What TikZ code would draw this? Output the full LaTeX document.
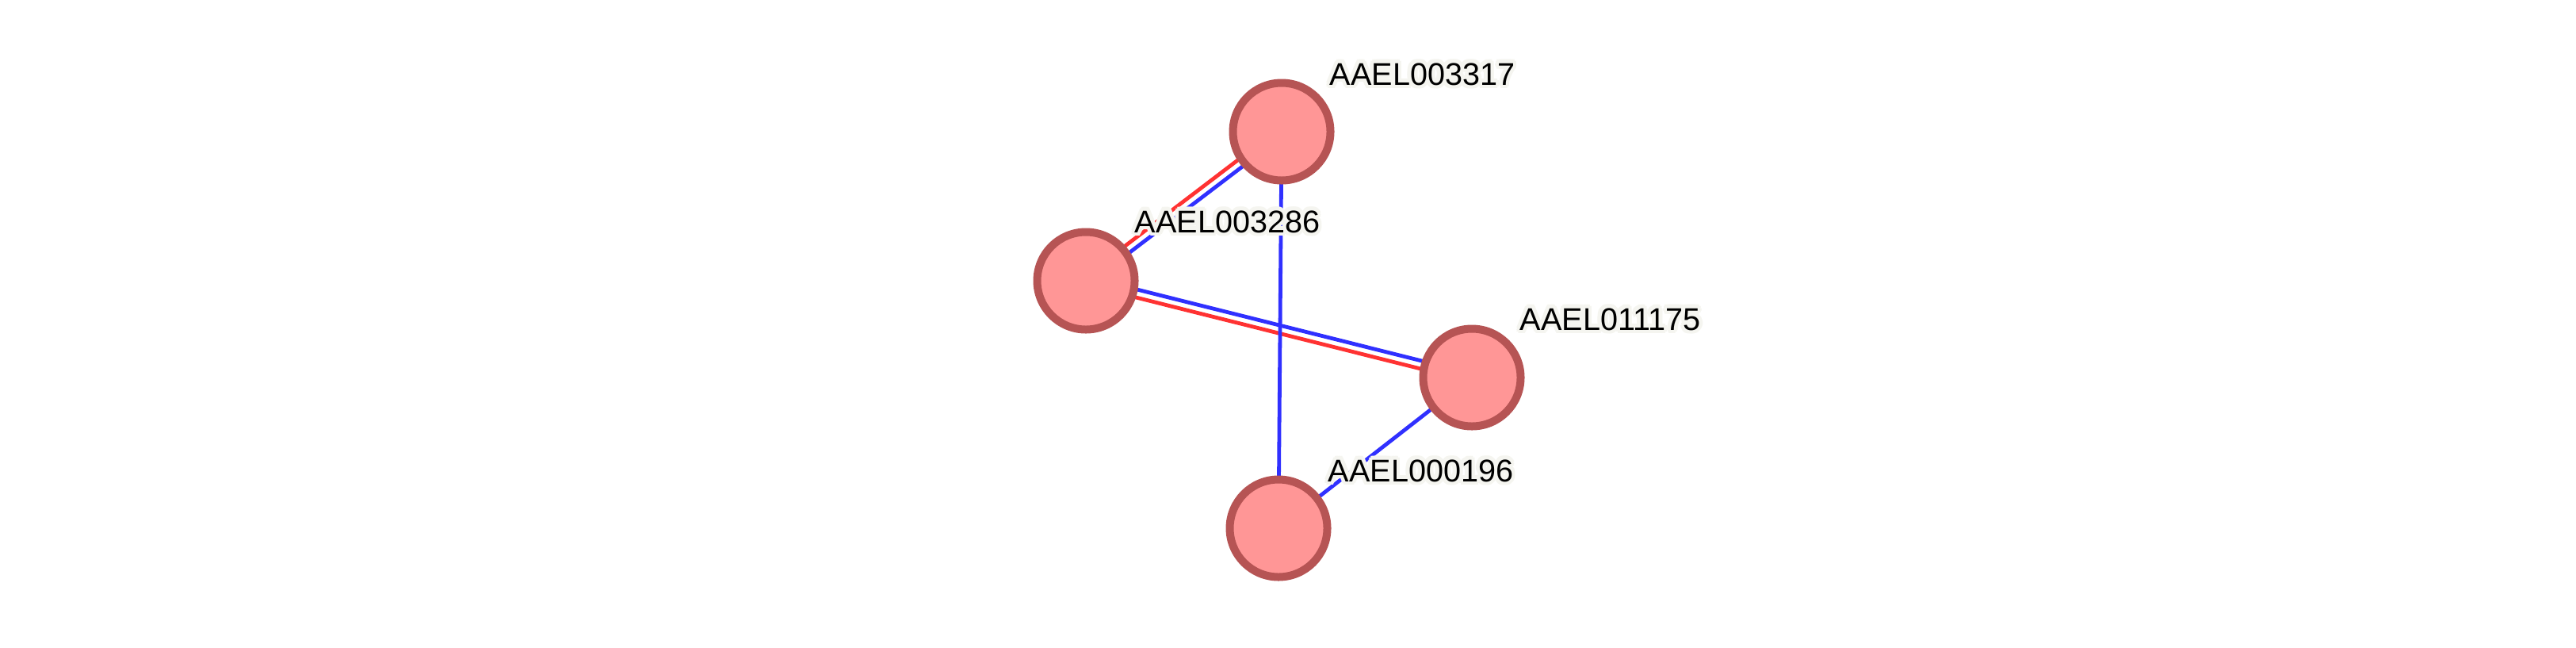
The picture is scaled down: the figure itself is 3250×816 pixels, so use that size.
\documentclass[tikz,border=0pt]{standalone}
\usepackage{fontspec}
\setmainfont{Liberation Sans}
\usepackage{contour}
\contourlength{1.2pt}
\contournumber{12}
\usetikzlibrary{calc,backgrounds}
\definecolor{nodefill}{RGB}{255,150,150}
\definecolor{nodeline}{RGB}{182,84,84}
\definecolor{edgeblue}{RGB}{48,48,255}
\definecolor{edgered}{RGB}{255,50,50}
\definecolor{halo}{RGB}{245,245,240}
\tikzset{
  protein/.style={circle, draw=nodeline, fill=nodefill, line width=2.5pt, minimum size=30.75pt, inner sep=0pt},
  plabel/.style={anchor=base west, inner sep=0pt, font=\fontsize{9.9pt}{12pt}\selectfont},
  blueedge/.style={draw=edgeblue, line width=1.2pt},
  rededge/.style={draw=edgered, line width=1.2pt},
}
\newcommand{\halotext}[1]{\contour{halo}{#1}}
\begin{document}
\begin{tikzpicture}[x=0.25pt,y=-0.25pt]
\useasboundingbox (0,0) rectangle (3250,816);
\node[protein] (p3317) at (1617,166) {};
\node[protein] (p3286) at (1370,354) {};
\node[protein] (p1175) at (1857,476) {};
\node[protein] (p0196) at (1613,666) {};
\begin{scope}[on background layer]
\draw[rededge] ($(p3286.center)!1.25pt!90:(p3317.center)$) -- ($(p3317.center)!1.25pt!-90:(p3286.center)$);
\draw[blueedge] ($(p3286.center)!1.25pt!-90:(p3317.center)$) -- ($(p3317.center)!1.25pt!90:(p3286.center)$);
\draw[blueedge] ($(p3286.center)!1.25pt!90:(p1175.center)$) -- ($(p1175.center)!1.25pt!-90:(p3286.center)$);
\draw[rededge] ($(p3286.center)!1.25pt!-90:(p1175.center)$) -- ($(p1175.center)!1.25pt!90:(p3286.center)$);
\draw[blueedge] (p3317.center) -- (p0196.center);
\draw[blueedge] (p1175.center) -- (p0196.center);
\end{scope}
\node[plabel] (l3317) at (1677,107) {\halotext{AAEL003317}};
\node[plabel] (l3286) at (1431,293) {\halotext{AAEL003286}};
\node[plabel] (l1175) at (1917,416) {\halotext{AAEL011175}};
\node[plabel] (l0196) at (1675,607) {\halotext{AAEL000196}};
\end{tikzpicture}
\end{document}
